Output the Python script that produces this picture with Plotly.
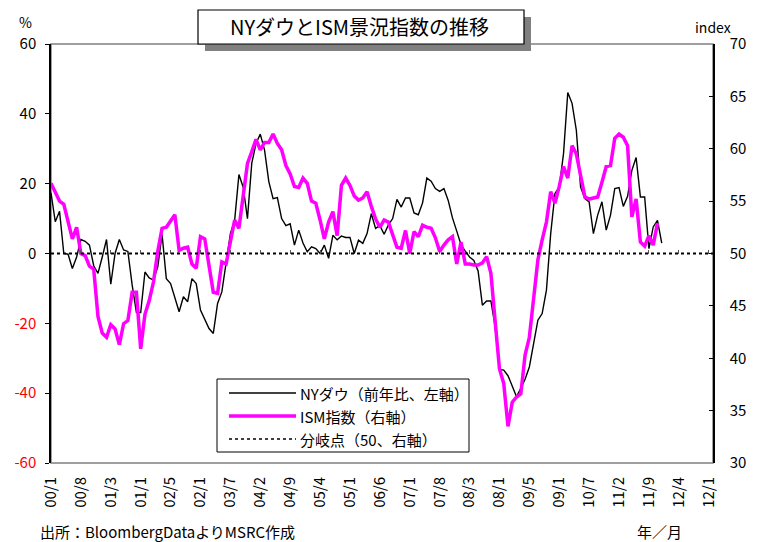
import plotly.graph_objects as go

FONT = "Noto Sans CJK JP"

# x軸ラベル（7か月ごと、図の表示どおり）
TICK_LABELS = ["00/1", "00/8", "01/3", "01/1", "02/5", "02/1", "03/7", "04/2",
               "04/9", "05/4", "05/1", "06/6", "07/1", "07/8", "08/3", "08/1",
               "09/5", "09/1", "10/7", "11/2", "11/9", "12/4", "12/1"]
TICK_STEP = 7
LAST_MONTH = 155  # 2000/1 = 0 ... 2012/12 = 155

# NYダウ 前年比（%、左軸） 2000/1 -
DOW_YOY = [17.4, 9.1, 12.1, 0.0, -0.2, -4.3, -1.0, 4.0, 3.5, 2.4, -3.5, -5.7,
           -1.0, 4.0, -8.8, 0.0, 4.0, 1.0, 0.6, -9.0, -16.9, -16.9, -5.3, -7.0,
           -7.6, -3.8, 5.5, -7.2, -8.6, -12.5, -16.7, -12.4, -13.8, -7.2, -8.6, -16.2,
           -19.0, -21.5, -22.9, -14.3, -11.0, -3.0, 5.7, 9.5, 22.6, 19.0, 10.0, 25.8,
           31.5, 34.2, 29.6, 20.6, 15.7, 16.0, 10.0, 8.0, 8.5, 2.4, 6.7, 3.0,
           0.5, 1.9, 1.4, 0.0, 2.4, -1.4, 5.2, 3.9, 5.0, 4.6, 4.6, 0.0,
           3.8, 2.9, 5.7, 11.4, 7.2, 8.0, 5.5, 8.2, 10.0, 15.5, 13.3, 15.9,
           15.9, 11.6, 11.1, 14.5, 21.6, 20.7, 18.6, 17.8, 18.6, 15.2, 10.2, 6.4,
           2.5, 0.7, -1.0, -2.0, -5.0, -14.8, -13.6, -13.6, -21.0, -33.2, -33.4, -35.0,
           -38.0, -41.0, -38.6, -36.0, -32.5, -25.8, -19.1, -17.2, -10.5, 5.7, 17.2, 19.0,
           28.6, 46.1, 43.0, 35.3, 19.0, 15.7, 14.8, 5.7, 11.0, 14.8, 6.7, 11.0,
           18.6, 18.9, 13.5, 16.4, 23.8, 27.5, 16.2, 16.2, 1.4, 7.6, 9.5, 3.0]

# ISM指数（右軸） 2000/1 -
ISM = [56.7, 55.9, 55.0, 54.7, 53.2, 51.4, 52.5, 50.0, 49.8, 48.8, 48.5, 44.0,
       42.4, 42.0, 43.2, 42.8, 41.3, 43.3, 43.6, 46.3, 46.3, 40.9, 44.2, 45.5,
       47.3, 50.2, 52.4, 52.5, 53.1, 53.7, 50.3, 50.5, 50.6, 49.0, 48.6, 51.6,
       51.4, 48.8, 46.3, 46.2, 49.2, 49.0, 51.1, 53.2, 52.4, 55.4, 58.6, 59.7,
       60.9, 59.9, 60.6, 60.6, 61.4, 60.5, 59.9, 58.4, 57.6, 56.4, 56.3, 57.2,
       56.7, 55.0, 54.8, 53.2, 51.4, 53.0, 54.0, 51.7, 56.5, 57.2, 56.5, 55.5,
       55.1, 55.3, 55.9, 54.5, 53.3, 52.5, 53.2, 53.0, 51.9, 50.6, 50.5, 52.2,
       50.0, 52.1, 51.6, 52.7, 52.5, 52.4, 51.5, 50.2, 50.8, 51.3, 51.6, 49.0,
       51.1, 49.0, 49.0, 48.9, 48.9, 49.1, 49.7, 48.1, 43.5, 39.0, 37.6, 33.5,
       35.8, 36.3, 36.6, 40.3, 42.0, 45.5, 49.4, 51.3, 53.0, 55.9, 54.8, 56.4,
       58.3, 57.2, 60.3, 59.5, 57.3, 55.4, 55.2, 55.3, 55.4, 56.8, 58.3, 58.4,
       61.0, 61.4, 61.1, 60.3, 53.5, 55.2, 51.1, 50.7, 51.7, 50.8, 52.9]

BRANCH_POINT = 50  # 分岐点（右軸）

LEFT_TICKS = [-60, -40, -20, 0, 20, 40, 60]
RIGHT_TICKS = [30, 35, 40, 45, 50, 55, 60, 65, 70]

# plot area in pixels
L, R, T, B = 51, 713, 44, 463
W, H = 759, 542


def px(x):
    return (x - L) / (R - L)


def py(y):
    return (B - y) / (B - T)


tickvals = [i * TICK_STEP for i in range(len(TICK_LABELS))]
left_text = [f'<span style="color:#ff0000">{v}</span>' if v < 0 else str(v)
             for v in LEFT_TICKS]

fig = go.Figure()
fig.add_trace(go.Scatter(x=list(range(len(DOW_YOY))), y=DOW_YOY, mode="lines",
                         line=dict(color="black", width=1.4), name="NYダウ（前年比、左軸）",
                         xaxis="x", yaxis="y"))
fig.add_trace(go.Scatter(x=[0, LAST_MONTH], y=[BRANCH_POINT, BRANCH_POINT], mode="lines",
                         line=dict(color="black", width=2, dash="dot"),
                         name="分岐点（50、右軸）", xaxis="x2", yaxis="y2"))
fig.add_trace(go.Scatter(x=list(range(len(ISM))), y=ISM, mode="lines",
                         line=dict(color="#ff00ff", width=3.5), name="ISM指数（右軸）",
                         xaxis="x", yaxis="y2"))

fig.update_layout(
    width=W, height=H,
    margin=dict(l=L, r=W - R, t=T, b=H - B, autoexpand=False),
    paper_bgcolor="white", plot_bgcolor="white",
    showlegend=False,
    font=dict(family=FONT, size=15, color="black"),
    xaxis=dict(range=[0, LAST_MONTH], tickvals=tickvals, ticktext=TICK_LABELS,
               tickangle=-90, ticks="", showline=False, showgrid=False,
               zeroline=False, tickfont=dict(size=15), ticklabelstandoff=10),
    xaxis2=dict(range=[0, LAST_MONTH], overlaying="x", anchor="free", position=0.5,
                side="bottom", tickvals=tickvals, ticks="inside", ticklen=4,
                tickcolor="#555", showticklabels=False, showline=False,
                showgrid=False, zeroline=False),
    yaxis=dict(range=[-60, 60], tickvals=LEFT_TICKS, ticktext=left_text,
               ticks="outside", ticklen=4, tickcolor="black", showline=True,
               linecolor="black", linewidth=1.5, showgrid=False, zeroline=False,
               tickfont=dict(size=15), ticklabelstandoff=6),
    yaxis2=dict(range=[30, 70], tickvals=RIGHT_TICKS, overlaying="y", side="right",
                ticks="inside", ticklen=4, tickcolor="black", showline=True,
                linecolor="black", linewidth=1.5, showgrid=False, zeroline=False,
                tickfont=dict(size=15), ticklabelstandoff=12),
)

shapes = [
    # plot border
    dict(type="rect", xref="paper", yref="paper", x0=0, x1=1, y0=0, y1=1,
         line=dict(color="#808080", width=1.5), layer="below"),
    # title box with shadow
    dict(type="rect", xref="paper", yref="paper", x0=px(205), x1=px(531),
         y0=py(51), y1=py(17), fillcolor="#808080", line=dict(width=0)),
    dict(type="rect", xref="paper", yref="paper", x0=px(198), x1=px(524),
         y0=py(44), y1=py(10), fillcolor="white", line=dict(color="black", width=1.2)),
    # legend box
    dict(type="rect", xref="paper", yref="paper", x0=px(217), x1=px(469),
         y0=py(452), y1=py(379), fillcolor="white", line=dict(color="black", width=1)),
]

legend_items = [
    ("NYダウ（前年比、左軸）", dict(color="black", width=1.4), 393),
    ("ISM指数（右軸）", dict(color="#ff00ff", width=3.5), 416),
    ("分岐点（50、右軸）", dict(color="black", width=1.5, dash="dot"), 439),
]
annotations = []
for name, line, ypix in legend_items:
    shapes.append(dict(type="line", xref="paper", yref="paper", x0=px(229), x1=px(296),
                       y0=py(ypix), y1=py(ypix), line=line))
    annotations.append(dict(text=name, xref="paper", yref="paper", x=px(298), y=py(ypix),
                            xanchor="left", yanchor="middle", showarrow=False,
                            font=dict(size=15)))

annotations += [
    dict(text="NYダウとISM景況指数の推移", xref="paper", yref="paper",
         x=px(359), y=py(27), xanchor="center", yanchor="middle", showarrow=False,
         font=dict(size=20)),
    dict(text="%", xref="paper", yref="paper", x=px(25), y=py(22),
         xanchor="center", yanchor="middle", showarrow=False, font=dict(size=14)),
    dict(text="index", xref="paper", yref="paper", x=px(713), y=py(27),
         xanchor="center", yanchor="middle", showarrow=False, font=dict(size=14)),
    dict(text="出所：BloombergDataよりMSRC作成", xref="paper", yref="paper",
         x=px(38), y=py(531), xanchor="left", yanchor="middle", showarrow=False,
         font=dict(size=15)),
    dict(text="年／月", xref="paper", yref="paper", x=px(659), y=py(531),
         xanchor="center", yanchor="middle", showarrow=False, font=dict(size=15)),
]

fig.update_layout(shapes=shapes, annotations=annotations)
fig.write_html("out.html", config={"displayModeBar": False},
               post_script="document.body.style.margin='0';")
